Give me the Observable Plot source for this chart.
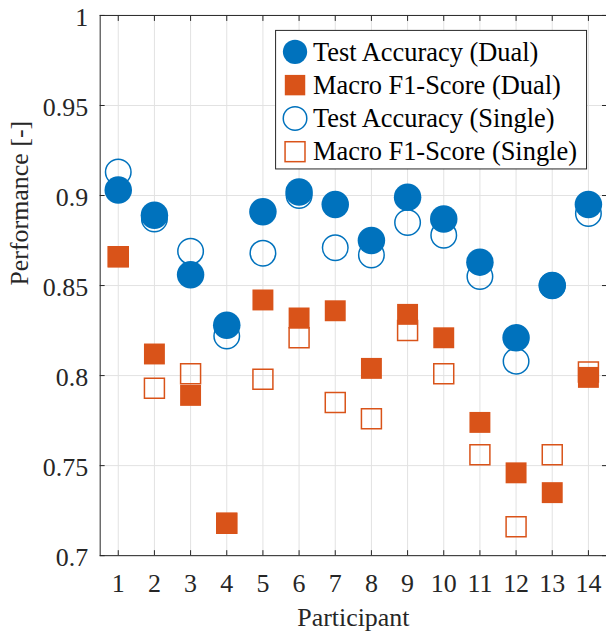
<!DOCTYPE html>
<html><head><meta charset="utf-8">
<script src="https://cdn.jsdelivr.net/npm/d3@7"></script>
<script src="https://cdn.jsdelivr.net/npm/@observablehq/plot@0.6"></script>
<style>html,body{margin:0;padding:0;overflow:hidden;background:#fff}</style>
</head><body><div id="chart"></div>
<script>
const participants = [1, 2, 3, 4, 5, 6, 7, 8, 9, 10, 11, 12, 13, 14];
const accDual   = [0.903, 0.889, 0.856, 0.828, 0.891, 0.902, 0.895, 0.875, 0.899, 0.887, 0.863, 0.821, 0.850, 0.895];
const f1Dual    = [0.866, 0.812, 0.789, 0.718, 0.842, 0.832, 0.836, 0.804, 0.834, 0.821, 0.774, 0.746, 0.735, 0.799];
const accSingle = [0.913, 0.887, 0.869, 0.822, 0.868, 0.900, 0.871, 0.867, 0.885, 0.878, 0.855, 0.808, 0.850, 0.890];
const f1Single  = [0.866, 0.793, 0.801, 0.718, 0.798, 0.821, 0.785, 0.776, 0.825, 0.801, 0.756, 0.716, 0.756, 0.802];
const seriesNames = ["Test Accuracy (Dual)", "Macro F1-Score (Dual)", "Test Accuracy (Single)", "Macro F1-Score (Single)"];
const yTicks = [0.7, 0.75, 0.8, 0.85, 0.9, 0.95, 1];
const xTicks = participants;
const xLabel = "Participant";
const yLabel = "Performance [-]";

const blue = "#0072BD", orange = "#D95319";
const font = "Liberation Serif, Times New Roman, serif";
const axisColor = "#262626";
const gridColor = "#e2e2e2";
const rows = vals => participants.map((p, i) => ({p, v: vals[i]}));
const fmt = d => String(+d.toFixed(2));
const txt = {fontFamily: font, fontSize: 26, fill: axisColor};

const chart = Plot.plot({
  width: 608, height: 635,
  marginLeft: 100, marginRight: 0, marginTop: 15, marginBottom: 78,
  x: {domain: [0.5, 14.5], label: null},
  y: {domain: [0.7, 1], label: null},
  marks: [
    Plot.gridX(xTicks, {stroke: gridColor, strokeOpacity: 1}),
    Plot.gridY(yTicks, {stroke: gridColor, strokeOpacity: 1}),
    Plot.dot(rows(accSingle), {x: "p", y: "v", r: 12.8, symbol: "circle", fill: "none", stroke: blue, strokeWidth: 1.5}),
    Plot.dot(rows(f1Single), {x: "p", y: "v", r: 11.3, symbol: "square", fill: "none", stroke: orange, strokeWidth: 1.5}),
    Plot.dot(rows(accDual), {x: "p", y: "v", r: 13.8, symbol: "circle", fill: blue}),
    Plot.dot(rows(f1Dual), {x: "p", y: "v", r: 11.85, symbol: "square", fill: orange}),
    Plot.frame({stroke: axisColor, strokeWidth: 1}),
    Plot.axisX(xTicks, {anchor: "bottom", tickSize: -5, tickFormat: () => "", label: null, stroke: axisColor}),
    Plot.axisX(xTicks, {anchor: "top", tickSize: -5, tickFormat: () => "", label: null, stroke: axisColor}),
    Plot.axisY(yTicks, {anchor: "left", tickSize: -5, tickFormat: () => "", label: null, stroke: axisColor}),
    Plot.axisY(yTicks, {anchor: "right", tickSize: -5, tickFormat: () => "", label: null, stroke: axisColor}),
    Plot.axisX(xTicks, {anchor: "bottom", tickSize: 0, tickPadding: 18, tickFormat: d => String(d), label: null, ...txt}),
    Plot.axisY(yTicks, {anchor: "left", tickSize: 0, tickPadding: 12, tickFormat: fmt, label: null, dy: 2, ...txt}),
    Plot.text([xLabel], {text: d => d, frameAnchor: "bottom", dy: 62, lineAnchor: "middle", ...txt}),
    Plot.text([yLabel], {text: d => d, frameAnchor: "left", rotate: -90, dx: -81, lineAnchor: "middle", ...txt})
  ]
});

document.getElementById("chart").appendChild(chart);
const svg = d3.select(chart);
svg.selectAll("text").style("font-family", font).style("font-size", "26px");

// legend (inside the axes, top right)
const lg = svg.append("g").attr("class", "legend").attr("text-anchor", "start");
lg.append("rect").attr("x", 276.5).attr("y", 30.5).attr("width", 312).attr("height", 139)
  .style("fill", "#ffffff").style("stroke", axisColor).style("stroke-width", "1px");
const kinds = [
  {shape: "circle", filled: true, color: blue},
  {shape: "square", filled: true, color: orange},
  {shape: "circle", filled: false, color: blue},
  {shape: "square", filled: false, color: orange}
];
seriesNames.forEach((name, i) => {
  const cy = 52 + i * 33.4, cx = 296;
  const k = kinds[i];
  if (k.shape === "circle") {
    lg.append("circle").attr("cx", cx).attr("cy", cy).attr("r", k.filled ? 12.2 : 11.8)
      .style("fill", k.filled ? k.color : "none").style("stroke", k.filled ? "none" : k.color).style("stroke-width", "1.5px");
  } else {
    const s = k.filled ? 20.5 : 20;
    lg.append("rect").attr("x", cx - s / 2).attr("y", cy - s / 2).attr("width", s).attr("height", s)
      .style("fill", k.filled ? k.color : "none").style("stroke", k.filled ? "none" : k.color).style("stroke-width", "1.5px");
  }
  lg.append("text").attr("x", 314).attr("y", cy).attr("dy", "0.33em")
    .style("font-family", font).style("font-size", "26.5px").style("fill", "#000")
    .attr("text-anchor", "start").text(name);
});
</script>
</body></html>
